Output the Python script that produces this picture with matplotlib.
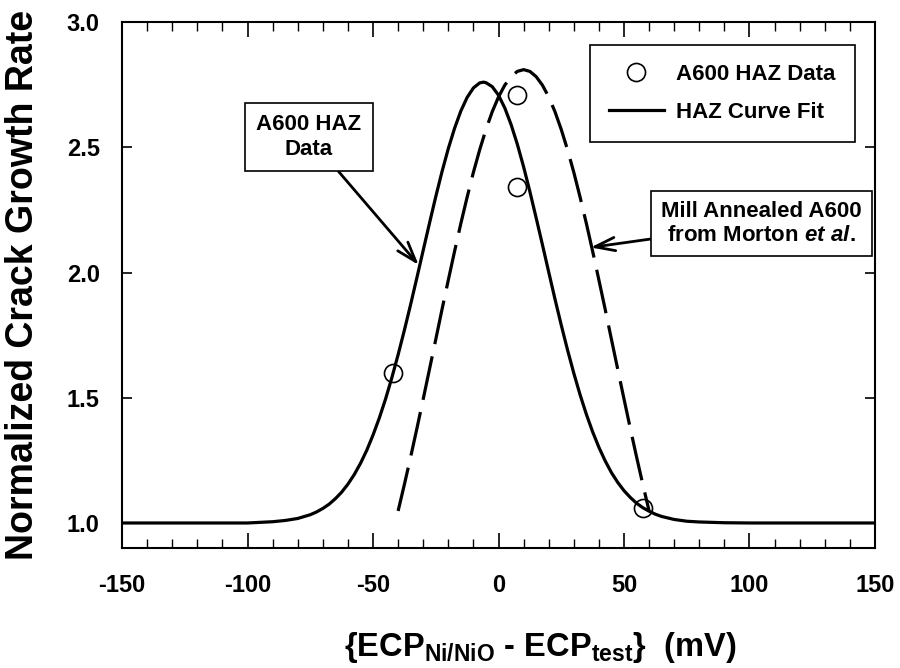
import matplotlib
matplotlib.use("Agg")
import matplotlib.pyplot as plt
from matplotlib.lines import Line2D

plt.rcParams['font.family'] = ['Liberation Sans', 'DejaVu Sans']
plt.rcParams['font.weight'] = 'bold'
plt.rcParams['mathtext.fontset'] = 'custom'
plt.rcParams['mathtext.rm'] = 'Liberation Sans:bold'
plt.rcParams['mathtext.bf'] = 'Liberation Sans:bold'
plt.rcParams['mathtext.it'] = 'Liberation Sans:bold:italic'
plt.rcParams['axes.unicode_minus'] = False
plt.rcParams['lines.scale_dashes'] = False

# HAZ curve fit (solid)
fit_x = [-150, -100, -90, -85, -80, -75, -72.5, -70, -67.5, -65, -62.5, -60, -57.5, -55,
         -52.5, -50, -47.5, -45, -42.5, -40, -37.5, -35, -32.5, -30, -27.5, -25, -22.5,
         -20, -17.5, -15, -12.5, -10, -7.5, -6, -5, -2.5, 0, 2.5, 5, 7.5, 10, 12.5, 15,
         17.5, 20, 22.5, 25, 27.5, 30, 32.5, 35, 37.5, 40, 42.5, 45, 47.5, 50, 52.5, 55,
         57.5, 60, 62.5, 65, 70, 75, 80, 90, 100, 150]
fit_y = [1.000, 1.000, 1.005, 1.010, 1.018, 1.033, 1.044, 1.058, 1.075, 1.097, 1.123,
         1.155, 1.193, 1.238, 1.290, 1.351, 1.419, 1.495, 1.580, 1.672, 1.770, 1.873,
         1.980, 2.089, 2.197, 2.303, 2.403, 2.495, 2.576, 2.645, 2.699, 2.737, 2.757,
         2.760, 2.758, 2.742, 2.708, 2.657, 2.591, 2.512, 2.422, 2.323, 2.218, 2.111,
         2.002, 1.894, 1.790, 1.691, 1.598, 1.512, 1.434, 1.364, 1.302, 1.248, 1.201,
         1.162, 1.129, 1.102, 1.079, 1.061, 1.047, 1.035, 1.026, 1.014, 1.007, 1.004,
         1.001, 1.000, 1.000]

# Mill annealed A600 (Morton et al.), dashed
mill_x = [-40, -37.5, -35, -32.5, -30, -27.5, -25, -22.5, -20, -17.5, -15, -12.5, -10,
          -7.5, -5, -2.5, 0, 2.5, 5, 7.5, 10, 12.5, 15, 17.5, 20, 22.5, 25, 27.5, 30,
          32.5, 35, 37.5, 40, 42.5, 45, 47.5, 50, 52.5, 55, 57.5, 60]
mill_y = [1.048, 1.154, 1.264, 1.378, 1.495, 1.614, 1.733, 1.853, 1.970, 2.085, 2.196,
          2.301, 2.400, 2.490, 2.571, 2.642, 2.701, 2.748, 2.782, 2.803, 2.810, 2.803,
          2.782, 2.748, 2.701, 2.642, 2.571, 2.490, 2.400, 2.301, 2.196, 2.085, 1.970,
          1.853, 1.733, 1.614, 1.495, 1.378, 1.264, 1.154, 1.048]

# A600 HAZ data points
data_x = [-42, 7.5, 7.5, 57.5]
data_y = [1.60, 2.71, 2.34, 1.06]

fig = plt.figure(figsize=(9, 6.68), dpi=100)
ax = fig.add_axes([0.1356, 0.1796, 0.8366, 0.7874])

ax.plot(fit_x, fit_y, color='black', lw=2.3)
ax.plot(mill_x, mill_y, color='black', lw=2.3, dashes=(32, 9))
ax.plot(data_x, data_y, 'o', mfc='none', mec='black', mew=1.2, ms=13)

ax.set_xlim(-150, 150)
ax.set_ylim(0.9, 3.0)
ax.set_xticks(range(-150, 151, 50))
ax.set_xticks(range(-150, 151, 10), minor=True)
ax.set_yticks([1.0, 1.5, 2.0, 2.5, 3.0])
ax.tick_params(axis='x', which='major', direction='in', top=True, length=11, width=1.2,
               labelsize=17, pad=19)
ax.tick_params(axis='x', which='minor', direction='in', top=True, length=6.5, width=1.0)
ax.tick_params(axis='y', which='major', direction='in', right=True, length=7, width=1.2,
               labelsize=17, pad=16)
for s in ax.spines.values():
    s.set_linewidth(1.5)

ax.set_ylabel('Normalized Crack Growth Rate', fontsize=27, fontweight='bold')
ax.yaxis.set_label_coords(-0.108, 0.5)
ax.set_xlabel('{ECP$_{\\mathrm{Ni/NiO}}$ - ECP$_{\\mathrm{test}}$}  (mV)', fontsize=23.5,
              fontweight='bold')
ax.xaxis.set_label_coords(0.556, -0.155)

handles = [Line2D([], [], ls='none', marker='o', mfc='none', mec='black', mew=1.2, ms=13),
           Line2D([], [], color='black', lw=2.3)]
leg = ax.legend(handles, ['A600 HAZ Data', 'HAZ Curve Fit'], loc='upper right',
                bbox_to_anchor=(0.973, 0.956), fancybox=False, edgecolor='black',
                framealpha=1, fontsize=16, handlelength=2.5, borderpad=0.85,
                labelspacing=0.75, handletextpad=0.55, borderaxespad=0)
leg.get_frame().set_linewidth(1.2)

box = dict(boxstyle='square,pad=0.5', fc='white', ec='black', lw=1.2)
arrow = dict(arrowstyle='->,head_length=0.9,head_width=0.3', color='black', lw=2,
             shrinkA=0, shrinkB=0)
ax.annotate('A600 HAZ\nData', xy=(-31.8, 2.03), xytext=(-75.5, 2.541), fontsize=16,
            ha='center', va='center', bbox=box, arrowprops=arrow, linespacing=1.2)
box2 = dict(boxstyle='square,pad=0.45', fc='white', ec='black', lw=1.2)
ax.annotate('Mill Annealed A600\nfrom Morton $\\it{et\\ al.}$', xy=(36.7, 2.10),
            xytext=(104.8, 2.196), fontsize=16, ha='center', va='center', bbox=box2,
            arrowprops=arrow, linespacing=1.15)

fig.savefig('out.png', dpi=100)
